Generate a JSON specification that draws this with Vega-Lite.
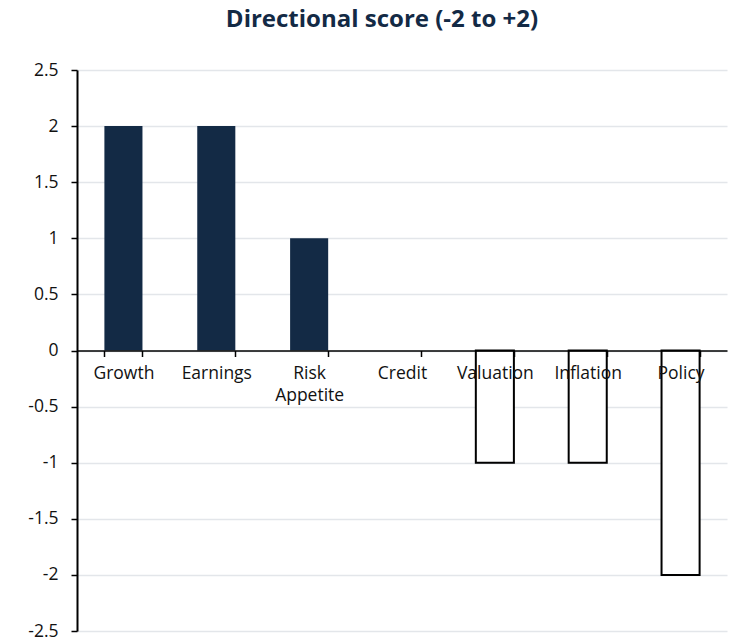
{
  "$schema": "https://vega.github.io/schema/vega-lite/v6.json",
  "width": 650,
  "height": 561,
  "autosize": {"type": "none"},
  "padding": {"left": 77, "top": 70, "right": 9, "bottom": 10},
  "background": "white",
  "view": {"stroke": null},
  "title": {
    "text": "Directional score (-2 to +2)",
    "font": "Open Sans",
    "fontSize": 24,
    "fontWeight": "bold",
    "color": "#132a45",
    "anchor": "middle",
    "frame": "group",
    "baseline": "alphabetic",
    "offset": 10,
    "dx": -20
  },
  "data": {
    "values": [
      {"factor": "Growth", "score": 2},
      {"factor": "Earnings", "score": 2},
      {"factor": "Risk Appetite", "score": 1},
      {"factor": "Credit", "score": 0},
      {"factor": "Valuation", "score": -1},
      {"factor": "Inflation", "score": -1},
      {"factor": "Policy", "score": -2}
    ]
  },
  "mark": {"type": "bar", "strokeWidth": 2},
  "encoding": {
    "x": {
      "field": "factor",
      "type": "nominal",
      "sort": null,
      "scale": {"paddingInner": 0.59, "paddingOuter": 0.295},
      "axis": {
        "orient": "bottom",
        "offset": -280.5,
        "title": null,
        "labelAngle": 0,
        "tickBand": "extent",
        "grid": false,
        "zindex": 1,
        "domainColor": "black",
        "domainWidth": 1.5,
        "tickColor": "black",
        "tickWidth": 1.5,
        "tickSize": 6,
        "labelFont": "Open Sans",
        "labelFontSize": 17.5,
        "labelColor": "#111111",
        "labelPadding": 8,
        "labelBaseline": "top",
        "labelLineHeight": 22,
        "labelExpr": "datum.value == 'Risk Appetite' ? ['Risk', 'Appetite'] : datum.value"
      }
    },
    "y": {
      "field": "score",
      "type": "quantitative",
      "scale": {"domain": [-2.5, 2.5], "nice": false, "zero": true},
      "axis": {
        "title": null,
        "values": [-2.5, -2, -1.5, -1, -0.5, 0, 0.5, 1, 1.5, 2, 2.5],
        "labelExpr": "'' + datum.value",
        "grid": true,
        "gridColor": "#e3e6ea",
        "gridWidth": 1.5,
        "domainColor": "black",
        "domainWidth": 2,
        "tickColor": "black",
        "tickWidth": 1.5,
        "tickSize": 6,
        "labelFont": "Open Sans",
        "labelFontSize": 17.5,
        "labelColor": "#111111",
        "labelPadding": 13
      }
    },
    "fill": {
      "condition": {"test": "datum.score > 0", "value": "#132a45"},
      "value": "white"
    },
    "stroke": {
      "condition": {"test": "datum.score < 0", "value": "black"},
      "value": null
    }
  }
}
